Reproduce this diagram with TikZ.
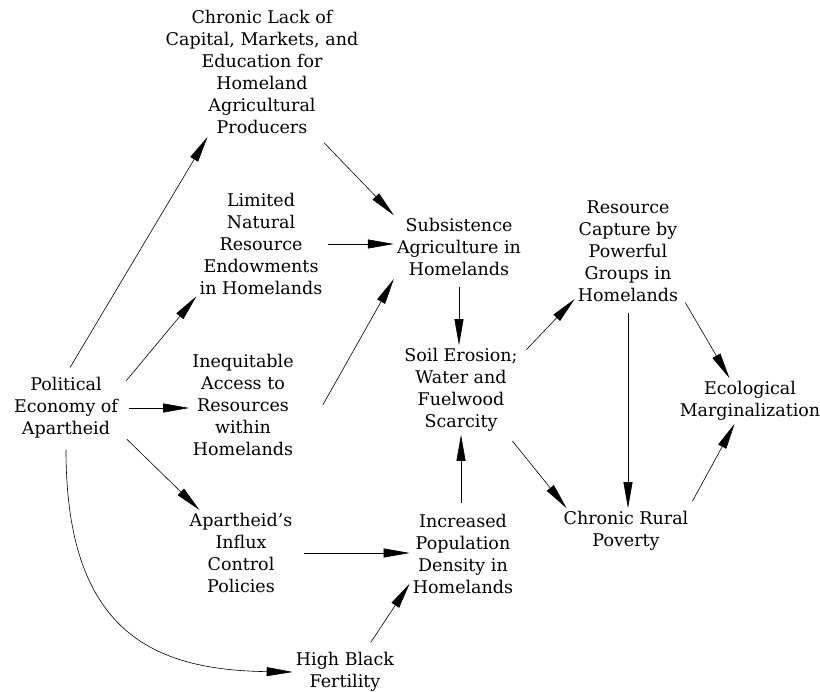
\documentclass[tikz,border=0pt]{standalone}
\usepackage{fontspec}
\setmainfont{DejaVu Serif}
\usetikzlibrary{arrows.meta}

\begin{document}
\begin{tikzpicture}[
    x=1pt, y=-1pt,
    >={Triangle[length=26pt, width=9pt]},
    % Styles
    factor/.style={ % plain text box, no frame
        align=center,
        inner sep=3pt,
        font=\fontsize{17.5}{22}\selectfont
    },
    arrow/.style={
        ->,
        line width=0.6pt,
        shorten <=8pt
    }
]
    \useasboundingbox (0,0) rectangle (820,692);

    % Causes on the left
    \node[factor] (pol) at (66,408) {Political\\Economy of\\Apartheid};
    \node[factor] (lack) at (262,72) {Chronic Lack of\\Capital, Markets, and\\Education for\\Homeland\\Agricultural\\Producers};
    \node[factor] (endow) at (261,244) {Limited\\Natural\\Resource\\Endowments\\in Homelands};
    \node[factor] (access) at (243,405) {Inequitable\\Access to\\Resources\\within\\Homelands};
    \node[factor] (influx) at (241,553) {Apartheid's\\Influx\\Control\\Policies};
    \node[factor] (fert) at (345,672) {High Black\\Fertility};

    % Middle column
    \node[factor] (subs) at (459,247) {Subsistence\\Agriculture in\\Homelands};
    \node[factor] (soil) at (461,390) {Soil Erosion;\\Water and\\Fuelwood\\Scarcity};
    \node[factor] (dens) at (463,554) {Increased\\Population\\Density in\\Homelands};

    % Right side
    \node[factor] (capt) at (628,251) {Resource\\Capture by\\Powerful\\Groups in\\Homelands};
    \node[factor] (ecol) at (750,401) {Ecological\\Marginalization};
    \node[factor] (pov) at (626,531) {Chronic Rural\\Poverty};

    % Arrows from apartheid
    \draw[arrow] (pol.north) -- (lack.230);
    \draw[arrow] (pol.21) -- (endow.219);
    \draw[arrow] (pol.east) -- (pol.east -| access.west);
    \draw[arrow] (pol.-25) -- (influx.134);
    \draw[arrow] (pol.south) .. controls +(0,190) and +(-140,-2) .. (fert.west);

    % Into subsistence agriculture
    \draw[arrow] (lack.-49) -- (subs.154);
    \draw[arrow, shorten <=2pt] (endow.east) -- (endow.east -| subs.west);
    \draw[arrow, shorten <=0pt] ([xshift=26pt]access.east) -- (subs.south west);

    % Population pressure
    \draw[arrow] (influx.east) -- (influx.east -| dens.west);
    \draw[arrow] (fert.47) -- (dens.209);
    \draw[arrow] (soil.south |- dens.north) -- (soil.south);
    \draw[arrow] (subs.south) -- (subs.south |- soil.north);

    % Right hand loop
    \draw[arrow] (soil.30) -- (capt.222);
    \draw[arrow] (soil.-44) -- (pov.159);
    \draw[arrow] (capt.south) -- (capt.south |- pov.north);
    \draw[arrow] (capt.-40) -- (ecol.132);
    \draw[arrow] (pov.20) -- (ecol.236);
\end{tikzpicture}
\end{document}
